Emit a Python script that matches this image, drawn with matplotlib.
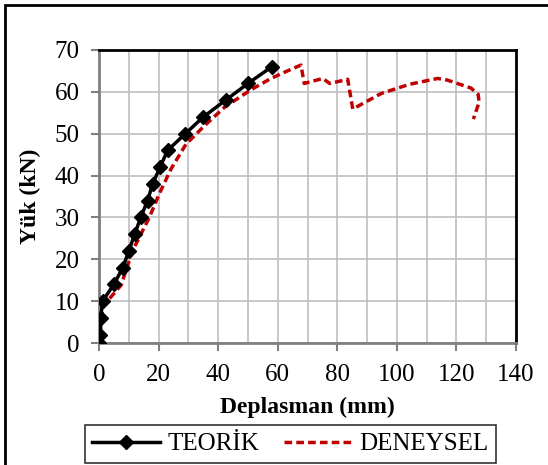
import matplotlib.pyplot as plt
from matplotlib.patches import Rectangle
from matplotlib.lines import Line2D

plt.rcParams['font.family'] = ['Liberation Serif', 'DejaVu Serif']

# TEORIK (theoretical) curve
teorik_x = [0, 0.5, 0.6, 1.2, 5, 8, 10, 12, 14, 16.3, 18, 20.5, 23, 29, 35, 42.5, 50, 58]
teorik_y = [0, 2, 6, 10, 14, 18, 22, 26, 30, 34, 38, 42, 46, 50, 54, 58, 62, 66]

# DENEYSEL (experimental) curve
deney_x = [0, 0.5, 1.5, 4, 7.4, 11.3, 16.9, 20.2, 24.2, 29.2, 35.4, 42.1, 51, 58, 64.5, 67.8,
           68.9, 75.1, 77.5, 83.5, 85.2, 94.7, 104.2, 113.7, 117, 124.9, 127.3, 127.6, 125.7]
deney_y = [0, 5, 9, 11, 13.8, 22.1, 30, 35.6, 41.6, 47.5, 51.9, 56.3, 60.5, 63.3, 65.4, 66.4,
           62, 63.2, 62, 63.0, 55.9, 59.6, 61.8, 63.2, 62.8, 60.9, 59.4, 57.5, 53.5]

fig = plt.figure(figsize=(5.48, 4.65), dpi=100)
ax = fig.add_axes([99 / 548, 1 - 343 / 465, 417 / 548, 293 / 465])

ax.plot(deney_x, deney_y, color='#C00000', lw=2.5, ls=(0, (2.2, 1.2)), zorder=3)
ax.plot(teorik_x, teorik_y, color='black', lw=2.5, marker='D', ms=7, zorder=4)

ax.set_xlim(0, 140)
ax.set_ylim(0, 70)
ax.set_xticks(range(0, 141, 20))
ax.set_yticks(range(0, 71, 10))
ax.set_xticks(range(0, 141, 10), minor=True)
ax.grid(True, which='both', color='#BFBFBF', lw=1.2)
ax.set_axisbelow(True)
ax.tick_params(axis='both', which='major', labelsize=18, color='#808080', length=6, width=1.5)
ax.tick_params(axis='x', which='major', pad=9)
ax.tick_params(axis='y', which='major', pad=8)
ax.tick_params(axis='x', which='minor', length=0)
for s in ['left', 'bottom']:
    ax.spines[s].set_color('#808080')
    ax.spines[s].set_linewidth(2)
for s in ['top', 'right']:
    ax.spines[s].set_color('black')
    ax.spines[s].set_linewidth(2)

ax.set_xlabel('Deplasman (mm)', fontsize=17, fontweight='bold', labelpad=8)
ax.set_ylabel('Yük (kN)', fontsize=17, fontweight='bold', labelpad=10)

handles = [Line2D([], [], color='black', lw=2.5, marker='D', ms=7),
           Line2D([], [], color='#C00000', lw=2.5, ls=(0, (2.2, 1.2)))]
leg = fig.legend(handles, ['TEORİK', 'DENEYSEL'], ncol=2, fontsize=18,
                 loc='center', bbox_to_anchor=(290 / 548, 1 - 444 / 465),
                 frameon=True, fancybox=False, edgecolor='black',
                 handlelength=2.7, handletextpad=0.3, columnspacing=1.0,
                 borderpad=0.3, borderaxespad=0)
leg.get_frame().set_linewidth(1.2)

fig.patches.append(Rectangle((5 / 548, -0.1), 1.2, 1 - 5 / 465 + 0.1,
                             transform=fig.transFigure, fill=False,
                             edgecolor='black', lw=2))

fig.savefig('out.png', dpi=100)
